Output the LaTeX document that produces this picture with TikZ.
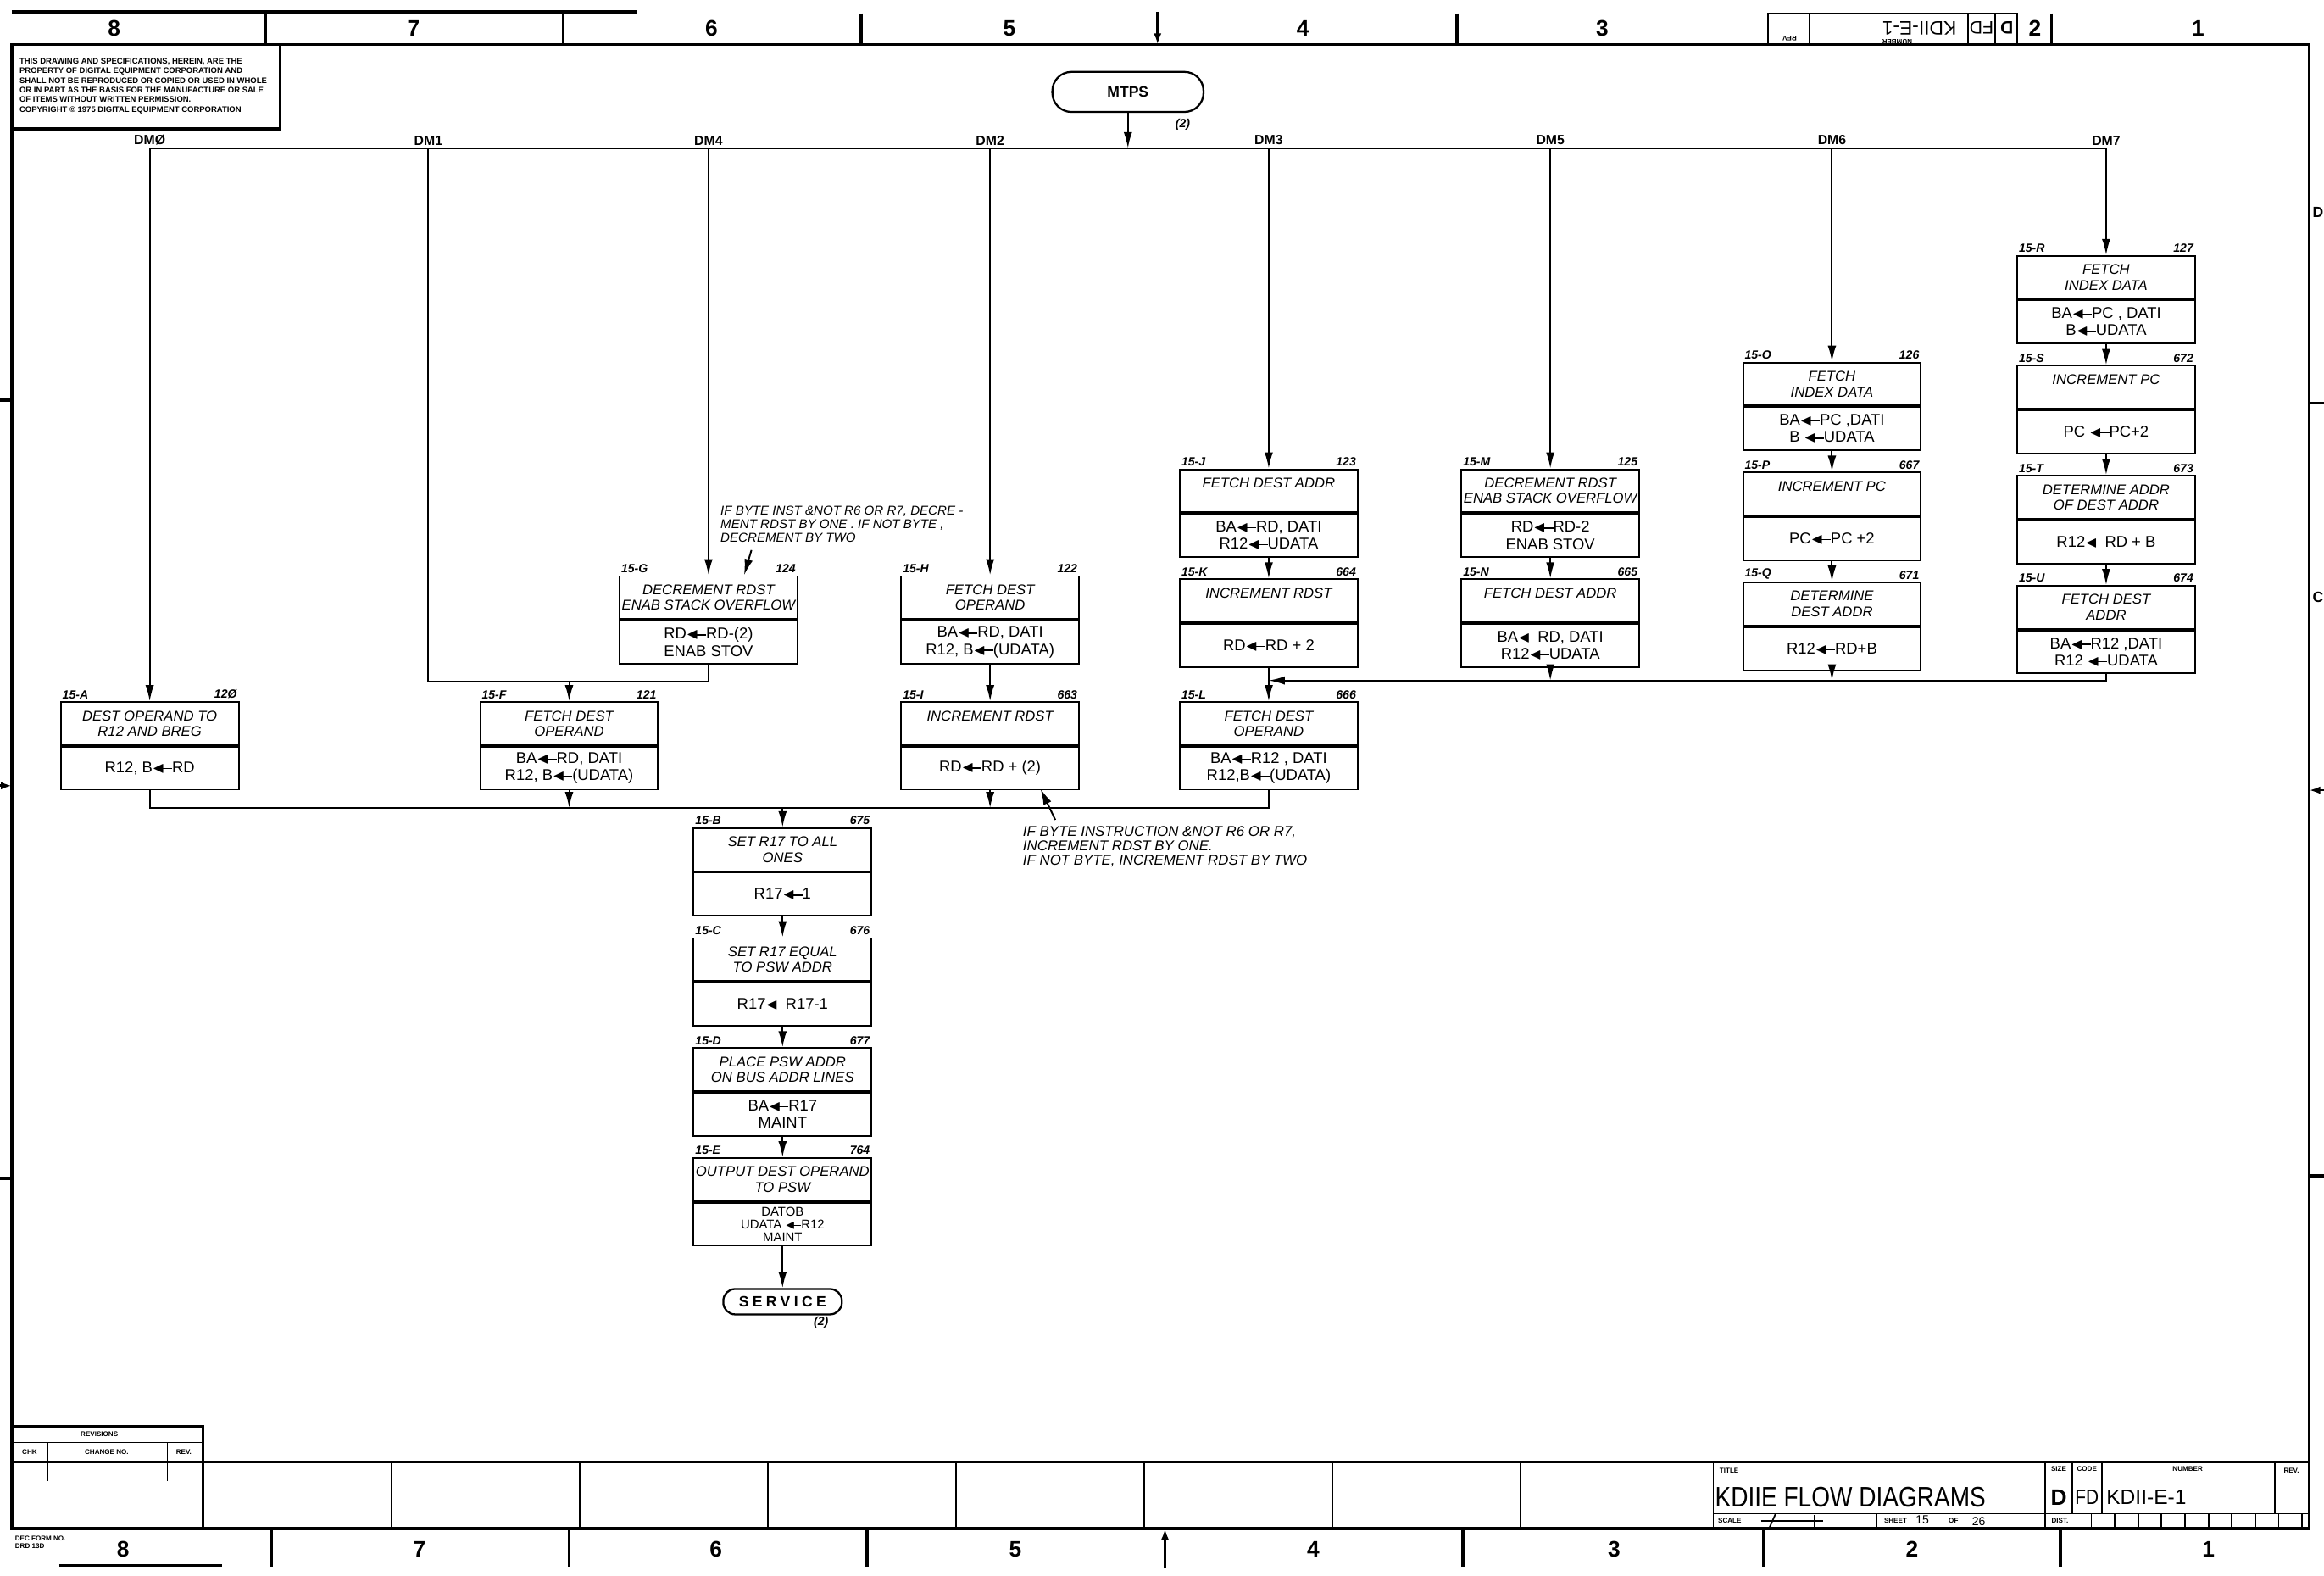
\documentclass[tikz,border=0pt]{standalone}
\usepackage{amsmath,amssymb,graphicx}
\usepackage{fontspec}
\setmainfont{Liberation Sans}
\usetikzlibrary{positioning,arrows.meta}

\newcommand{\lar}{\ensuremath{\blacktriangleleft}\kern-0.12em\rule[0.23em]{0.6em}{0.08em}}
\newcommand{\upfont}{\fontsize{9.5}{10.5}\selectfont\itshape}
\newcommand{\lofont}{\fontsize{10.5}{11.5}\selectfont}
\newcommand{\lblfont}{\fontsize{8}{9}\selectfont\bfseries\itshape}
\newcommand{\dmfont}{\fontsize{9}{10}\selectfont\bfseries}
\newcommand{\termfont}{\fontsize{10}{11}\selectfont\bfseries}
\newcommand{\zonefont}{\fontsize{15}{15}\selectfont\bfseries}
\newcommand{\tinyfont}{\fontsize{4.6}{5}\selectfont\bfseries}
\newcommand{\copyfont}{\fontsize{5.4}{6.5}\selectfont\bfseries}

\begin{document}
\begin{tikzpicture}[
    x=0.035cm, y=-0.035cm,
    frameline/.style={line width=2pt},
    hair/.style={line width=1pt},
    wire/.style={line width=1.1pt},
    arr/.style={-{Latex[length=3.8mm,width=2mm]}, line width=1.1pt},
    tick/.style={-{Latex[length=2.6mm,width=1.8mm]}, line width=1.6pt},
    fnbox/.style={draw, line width=1.1pt, minimum width=4.2cm, minimum height=1.015cm,
                  inner sep=1pt, align=center, font=\upfont},
    opbox/.style={fnbox, font=\lofont},
    idtag/.style={font=\lblfont, anchor=south west, inner sep=1.5pt},
    numtag/.style={font=\lblfont, anchor=south east, inner sep=1.5pt},
    term/.style={draw, line width=1.3pt, inner sep=2pt, font=\termfont},
    dmlabel/.style={font=\dmfont, anchor=south, inner sep=2pt},
    note/.style={align=left, anchor=north west, inner sep=0pt},
    zone/.style={font=\zonefont},
    tinytxt/.style={font=\tinyfont, inner sep=0pt}
]
    \useasboundingbox (0,0) rectangle (1568,1063);

    % sheet frame and zone strips
    \draw[frameline] (8,30) -- (1558,30) -- (1558,1031) -- (8,1031) -- cycle;
    \draw[frameline] (8,8) -- (430,8);
    \draw[frameline] (40,1056) -- (150,1056);
    \foreach \xx in {179,380,581,983,1384} \draw[frameline] (\xx,9) -- (\xx,30);
    \foreach \xx in {183,384,585,987,1190,1390} \draw[frameline] (\xx,1031) -- (\xx,1057);
    \draw[tick] (781,8) -- (781,30);
    \draw[tick] (786,1058) -- (786,1031);
    \foreach \n/\xx in {8/77,7/279,6/480,5/681,4/879,3/1081,2/1373,1/1483}
        \node[zone] (zt\n) at (\xx,19) {\n};
    \foreach \n/\xx in {8/83,7/283,6/483,5/685,4/886,3/1089,2/1290,1/1490}
        \node[zone] (zb\n) at (\xx,1045) {\n};
    \draw[frameline] (0,270) -- (8,270);
    \draw[frameline] (0,795) -- (8,795);
    \draw[tick] (0,530) -- (8,530);
    \draw[frameline] (1558,272) -- (1568,272);
    \draw[frameline] (1558,793) -- (1568,793);
    \draw[tick] (1568,533) -- (1558,533);
    \node[font=\fontsize{10}{10}\selectfont\bfseries, inner sep=0pt] (zD) at (1564,143) {D};
    \node[font=\fontsize{10}{10}\selectfont\bfseries, inner sep=0pt] (zC) at (1564,403) {C};

    % upside-down title block copy
    \draw[hair] (1193,30) -- (1193,9) -- (1361,9) -- (1361,30);
    \foreach \xx in {1221,1328,1346} \draw[hair] (\xx,9) -- (\xx,30);
    \node[rotate=180, font=\fontsize{13}{13}\selectfont] (tnum) at (1295,19) {KDII-E-1};
    \node[rotate=180, font=\fontsize{12}{12}\selectfont] (tcode) at (1337,19) {FD};
    \node[rotate=180, font=\fontsize{12}{12}\selectfont\bfseries] (tsize) at (1354,19) {D};
    \node[rotate=180, tinytxt] (trev) at (1207,26) {REV.};
    \node[rotate=180, tinytxt] (tnumh) at (1280,28) {NUMBER};

    % copyright notice
    \draw[frameline] (8,87) -- (189,87) -- (189,30);
    \node[note, font=\copyfont] (notice) at (13,39) {THIS DRAWING AND SPECIFICATIONS, HEREIN, ARE THE\\
        PROPERTY OF DIGITAL EQUIPMENT CORPORATION AND\\
        SHALL NOT BE REPRODUCED OR COPIED OR USED IN WHOLE\\
        OR IN PART AS THE BASIS FOR THE MANUFACTURE OR SALE\\
        OF ITEMS WITHOUT WRITTEN PERMISSION.\\
        COPYRIGHT \textcopyright{} 1975 DIGITAL EQUIPMENT CORPORATION};

    % entry and dispatch bus
    \node[term, minimum width=3.57cm, minimum height=0.945cm, rounded corners=0.45cm] (mtps) at (761,62) {MTPS};
    \node[font=\lblfont] (mtpsn) at (798,84) {(2)};
    \coordinate (bm) at (761,100);
    \draw[arr] (mtps) -- (bm);
    \coordinate (dm0) at (101,100);
    \coordinate (dm1) at (289,100);
    \coordinate (dm4) at (478,100);
    \coordinate (dm2) at (668,100);
    \coordinate (dm3) at (856,100);
    \coordinate (dm5) at (1046,100);
    \coordinate (dm6) at (1236,100);
    \coordinate (dm7) at (1421,100);
    \draw[wire] (dm0) -- (dm7);
    \node[dmlabel] (l0) at (dm0) {DM\O};
    \node[dmlabel] (l1) at (dm1) {DM1};
    \node[dmlabel] (l4) at (dm4) {DM4};
    \node[dmlabel] (l2) at (dm2) {DM2};
    \node[dmlabel] (l3) at (dm3) {DM3};
    \node[dmlabel] (l5) at (dm5) {DM5};
    \node[dmlabel] (l6) at (dm6) {DM6};
    \node[dmlabel] (l7) at (dm7) {DM7};

    % DM0
    \node[fnbox, anchor=north, label={[idtag]north west:15-A}, label={[numtag]north east:12\O}] (A) at (101,473) {DEST OPERAND TO\\R12 AND BREG};
    \node[opbox, below=0pt of A] (A2) {R12, B\lar RD};

    % DM1 and DM4
    \node[fnbox, anchor=north, label={[idtag]north west:15-G}, label={[numtag]north east:124}] (G) at (478,388) {DECREMENT RDST\\ENAB STACK OVERFLOW};
    \node[opbox, below=0pt of G] (G2) {RD\lar RD-(2)\\ENAB STOV};
    \node[fnbox, anchor=north, label={[idtag]north west:15-F}, label={[numtag]north east:121}] (F) at (384,473) {FETCH DEST\\OPERAND};
    \node[opbox, below=0pt of F] (F2) {BA\lar RD, DATI\\R12, B\lar(UDATA)};

    % DM2
    \node[fnbox, anchor=north, label={[idtag]north west:15-H}, label={[numtag]north east:122}] (H) at (668,388) {FETCH DEST\\OPERAND};
    \node[opbox, below=0pt of H] (H2) {BA\lar RD, DATI\\R12, B\lar(UDATA)};
    \node[fnbox, anchor=north, label={[idtag]north west:15-I}, label={[numtag]north east:663}] (I) at (668,473) {INCREMENT RDST\\\mbox{}};
    \node[opbox, below=0pt of I] (I2) {RD\lar RD + (2)};

    % DM3
    \node[fnbox, anchor=north, label={[idtag]north west:15-J}, label={[numtag]north east:123}] (J) at (856,316) {FETCH DEST ADDR\\\mbox{}};
    \node[opbox, below=0pt of J] (J2) {BA\lar RD, DATI\\R12\lar UDATA};
    \node[fnbox, below=0.49cm of J2, label={[idtag]north west:15-K}, label={[numtag]north east:664}] (K) {INCREMENT RDST\\\mbox{}};
    \node[opbox, below=0pt of K] (K2) {RD\lar RD + 2};
    \node[fnbox, anchor=north, label={[idtag]north west:15-L}, label={[numtag]north east:666}] (L) at (856,473) {FETCH DEST\\OPERAND};
    \node[opbox, below=0pt of L] (L2) {BA\lar R12 , DATI\\R12,B\lar(UDATA)};

    % DM5
    \node[fnbox, anchor=north, label={[idtag]north west:15-M}, label={[numtag]north east:125}] (M) at (1046,316) {DECREMENT RDST\\ENAB STACK OVERFLOW};
    \node[opbox, below=0pt of M] (M2) {RD\lar RD-2\\ENAB STOV};
    \node[fnbox, below=0.49cm of M2, label={[idtag]north west:15-N}, label={[numtag]north east:665}] (N) {FETCH DEST ADDR\\\mbox{}};
    \node[opbox, below=0pt of N] (N2) {BA\lar RD, DATI\\R12\lar UDATA};

    % DM6
    \node[fnbox, anchor=north, label={[idtag]north west:15-O}, label={[numtag]north east:126}] (O) at (1236,244) {FETCH\\INDEX DATA};
    \node[opbox, below=0pt of O] (O2) {BA\lar PC ,DATI\\B \lar UDATA};
    \node[fnbox, below=0.49cm of O2, label={[idtag]north west:15-P}, label={[numtag]north east:667}] (P) {INCREMENT PC\\\mbox{}};
    \node[opbox, below=0pt of P] (P2) {PC\lar PC +2};
    \node[fnbox, below=0.49cm of P2, label={[idtag]north west:15-Q}, label={[numtag]north east:671}] (Q) {DETERMINE\\DEST ADDR};
    \node[opbox, below=0pt of Q] (Q2) {R12\lar RD+B};

    % DM7
    \node[fnbox, anchor=north, label={[idtag]north west:15-R}, label={[numtag]north east:127}] (R) at (1421,172) {FETCH\\INDEX DATA};
    \node[opbox, below=0pt of R] (R2) {BA\lar PC , DATI\\B\lar UDATA};
    \node[fnbox, below=0.49cm of R2, label={[idtag]north west:15-S}, label={[numtag]north east:672}] (S) {INCREMENT PC\\\mbox{}};
    \node[opbox, below=0pt of S] (S2) {PC \lar PC+2};
    \node[fnbox, below=0.49cm of S2, label={[idtag]north west:15-T}, label={[numtag]north east:673}] (T) {DETERMINE ADDR\\OF DEST ADDR};
    \node[opbox, below=0pt of T] (T2) {R12\lar RD + B};
    \node[fnbox, below=0.49cm of T2, label={[idtag]north west:15-U}, label={[numtag]north east:674}] (U) {FETCH DEST\\ADDR};
    \node[opbox, below=0pt of U] (U2) {BA\lar R12 ,DATI\\R12 \lar UDATA};

    % common tail
    \node[fnbox, anchor=north, label={[idtag]north west:15-B}, label={[numtag]north east:675}] (B) at (528,558) {SET R17 TO ALL\\ONES};
    \node[opbox, below=0pt of B] (B2) {R17\lar 1};
    \node[fnbox, below=0.49cm of B2, label={[idtag]north west:15-C}, label={[numtag]north east:676}] (C) {SET R17 EQUAL\\TO PSW ADDR};
    \node[opbox, below=0pt of C] (C2) {R17\lar R17-1};
    \node[fnbox, below=0.49cm of C2, label={[idtag]north west:15-D}, label={[numtag]north east:677}] (D) {PLACE PSW ADDR\\ON BUS ADDR LINES};
    \node[opbox, below=0pt of D] (D2) {BA\lar R17\\MAINT};
    \node[fnbox, below=0.49cm of D2, label={[idtag]north west:15-E}, label={[numtag]north east:764}] (E) {OUTPUT DEST OPERAND\\TO PSW};
    \node[opbox, below=0pt of E, font=\fontsize{8.5}{8.6}\selectfont] (E2) {DATOB\\UDATA \lar R12\\MAINT};
    \node[term, below=0.98cm of E2, minimum width=2.8cm, minimum height=0.6cm, rounded corners=0.28cm] (svc) {\addfontfeature{LetterSpace=25}SERVICE};
    \node[font=\lblfont, anchor=north east, inner sep=1pt] (svcn) at ([xshift=-0.3cm]svc.south east) {(2)};

    % notes
    \node[note, font=\fontsize{8.6}{9.3}\selectfont\itshape] (note1) at (486,341) {IF BYTE INST \&NOT R6 OR R7, DECRE -\\MENT RDST BY ONE . IF NOT BYTE ,\\DECREMENT BY TWO};
    \coordinate (n1a) at (507,371);
    \coordinate (n1b) at (502,388);
    \draw[arr] (n1a) -- (n1b);
    \node[note, font=\fontsize{9.6}{9.8}\selectfont\itshape] (note2) at (690,557) {IF BYTE INSTRUCTION \&NOT R6 OR R7,\\INCREMENT RDST BY ONE.\\IF NOT BYTE, INCREMENT RDST BY TWO};
    \coordinate (n2a) at (712,553);
    \coordinate (n2b) at (702,532);
    \draw[arr] (n2a) -- (n2b);

    % connectors
    \coordinate (jf) at (384,460);
    \coordinate (jl) at (856,459);
    \coordinate (jb) at (528,545);
    \draw[arr] (dm0) -- (A);
    \draw[wire] (dm1) |- (jf);
    \draw[arr] (dm4) -- (G);
    \draw[wire] (G2) |- (jf);
    \draw[arr] (jf) -- (F);
    \draw[arr] (dm2) -- (H);
    \draw[arr] (H2) -- (I);
    \draw[arr] (dm3) -- (J);
    \draw[arr] (J2) -- (K);
    \draw[arr] (K2) -- (L);
    \draw[arr] (dm5) -- (M);
    \draw[arr] (M2) -- (N);
    \draw[arr] (N2) -- (N2 |- jl);
    \draw[arr] (dm6) -- (O);
    \draw[arr] (O2) -- (P);
    \draw[arr] (P2) -- (Q);
    \draw[arr] (Q2) -- (Q2 |- jl);
    \draw[arr] (dm7) -- (R);
    \draw[arr] (R2) -- (S);
    \draw[arr] (S2) -- (T);
    \draw[arr] (T2) -- (U);
    \draw[arr] (U2) |- (jl);
    \draw[wire] (A2) |- (jb);
    \draw[wire] (L2) |- (jb);
    \draw[arr] (F2) -- (F2 |- jb);
    \draw[arr] (I2) -- (I2 |- jb);
    \draw[arr] (jb) -- (B);
    \draw[arr] (B2) -- (C);
    \draw[arr] (C2) -- (D);
    \draw[arr] (D2) -- (E);
    \draw[arr] (E2) -- (svc);

    % revisions block and bottom row
    \draw[frameline] (8,986) -- (1558,986);
    \draw[frameline] (8,962) -- (137,962) -- (137,1031);
    \draw[hair] (8,973) -- (137,973);
    \draw[hair] (32,973) -- (32,999);
    \draw[hair] (113,973) -- (113,999);
    \node[tinytxt] (rvh) at (67,967.5) {REVISIONS};
    \node[tinytxt] (rvc) at (20,979.5) {CHK};
    \node[tinytxt] (rvn) at (72,979.5) {CHANGE NO.};
    \node[tinytxt] (rvr) at (124,979.5) {REV.};
    \foreach \xx in {264,391,518,645,772,899,1026,1156} \draw[hair] (\xx,986) -- (\xx,1031);
    \node[tinytxt, anchor=north west, align=left] (form) at (10,1036) {DEC FORM NO.\\DRD 13D};

    % title block
    \draw[hair] (1156,1021) -- (1558,1021);
    \draw[hair] (1380,986) -- (1380,1031);
    \draw[hair] (1398,986) -- (1398,1021);
    \draw[hair] (1418,986) -- (1418,1021);
    \draw[hair] (1535,986) -- (1535,1021);
    \draw[hair] (1266,1021) -- (1266,1031);
    \foreach \i in {0,...,9} \draw[hair] (1411+15.8*\i,1021) -- (1411+15.8*\i,1031);
    \node[tinytxt, anchor=west] (ttl) at (1160,992) {TITLE};
    \node[anchor=west, inner sep=0pt, font=\fontsize{19}{19}\selectfont] (title) at (1157,1010) {\scalebox{0.84}[1]{KDIIE FLOW DIAGRAMS}};
    \node[tinytxt] (szh) at (1389,991) {SIZE};
    \node[tinytxt] (cdh) at (1408,991) {CODE};
    \node[tinytxt] (nmh) at (1476,991) {NUMBER};
    \node[tinytxt] (rvt) at (1546,992) {REV.};
    \node[font=\fontsize{15}{15}\selectfont\bfseries] (size) at (1389,1010) {D};
    \node[font=\fontsize{14}{14}\selectfont] (code) at (1408,1010) {\scalebox{0.85}[1]{FD}};
    \node[anchor=west, inner sep=0pt, font=\fontsize{14}{14}\selectfont] (dwg) at (1421,1010) {KDII-E-1};
    \node[tinytxt, anchor=west] (scl) at (1159,1026) {SCALE};
    \draw[hair] (1188,1026) -- (1230,1026);
    \draw[hair] (1194,1030) -- (1198,1021);
    \draw[hair] (1224,1022) -- (1224,1030);
    \node[tinytxt, anchor=west] (sht) at (1271,1026) {SHEET};
    \node[font=\fontsize{8}{8}\selectfont, inner sep=0pt] (shn) at (1297,1025) {15};
    \node[tinytxt] (shof) at (1318,1026) {OF};
    \node[font=\fontsize{8}{8}\selectfont, inner sep=0pt] (sht2) at (1335,1026) {26};
    \node[tinytxt, anchor=west] (dst) at (1384,1026) {DIST.};
\end{tikzpicture}
\end{document}
